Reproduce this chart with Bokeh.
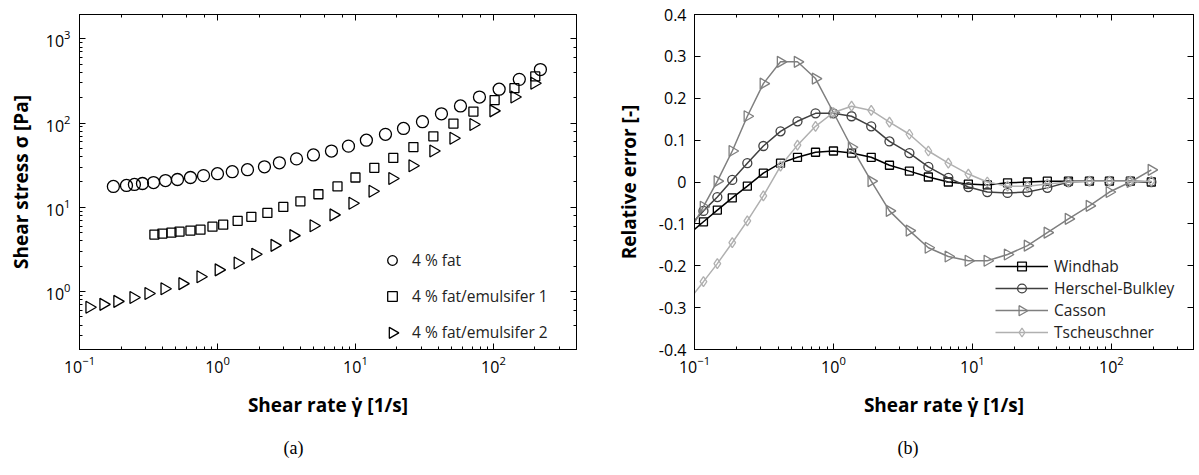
import math
from bokeh.plotting import figure
from bokeh.layouts import row
from bokeh.models import (LogAxis, LinearAxis, Legend, Title, FixedTicker,
                          NumeralTickFormatter, Range1d, LinearScale)
from bokeh.embed import file_html
from bokeh.resources import INLINE

# ---------------- data: panel (a) ----------------
fat_rate = [0.176, 0.219, 0.25, 0.286, 0.344, 0.42, 0.513, 0.637, 0.792, 1.0, 1.28, 1.65, 2.19, 2.81,
            3.74, 4.96, 6.70, 8.9, 12.0, 16.5, 22.3, 30.6, 42.0, 57.7, 79.2, 110, 154, 219]
fat_stress = [17.7, 18.2, 18.7, 19.2, 19.7, 20.8, 21.4, 22.6, 23.8, 25.1, 26.5, 28.0, 30.3, 33.8,
              37.6, 41.9, 46.6, 53.3, 62.7, 73.6, 86.5, 104, 129, 160, 204, 253, 331, 433]

emul1_rate = [0.349, 0.399, 0.464, 0.531, 0.637, 0.753, 0.920, 1.10, 1.40, 1.76, 2.30, 3.00, 3.99,
              5.39, 7.41, 10.0, 13.7, 18.8, 26.3, 36.7, 51.3, 71.6, 102, 142, 201]
emul1_stress = [4.75, 4.88, 5.01, 5.15, 5.29, 5.43, 5.89, 6.22, 6.92, 7.71, 8.59, 10.1, 11.8,
                14.3, 17.7, 22.6, 29.5, 38.6, 51.9, 69.8, 98.9, 137, 188, 260, 359]

emul2_rate = [0.118, 0.149, 0.188, 0.246, 0.316, 0.413, 0.557, 0.753, 1.02, 1.40, 1.88, 2.59, 3.55,
              4.97, 6.93, 9.51, 13.3, 18.5, 25.9, 36.7, 51.3, 71.6, 100, 142, 198]
emul2_stress = [0.65, 0.705, 0.764, 0.851, 0.947, 1.08, 1.24, 1.50, 1.81, 2.18, 2.77, 3.54, 4.62,
                6.05, 8.13, 11.2, 15.5, 22.0, 31.2, 46.6, 66.1, 96.3, 140, 204, 298]

labels_a = ["4 % fat", "4 % fat/emulsifer 1", "4 % fat/emulsifer 2"]

# ---------------- data: panel (b) ----------------
model_rate = [0.116, 0.146, 0.187, 0.240, 0.313, 0.416, 0.551, 0.743, 1.00, 1.35, 1.87, 2.53, 3.52,
              4.82, 6.71, 9.35, 12.8, 17.9, 24.9, 34.6, 49.1, 69.5, 96.8, 137, 194]
windhab = [-0.095, -0.067, -0.038, -0.010, 0.021, 0.045, 0.059, 0.071, 0.074, 0.069, 0.059, 0.040,
           0.026, 0.012, 0.000, -0.005, -0.007, -0.002, 0.000, 0.002, 0.002, 0.002, 0.002, 0.002, 0.000]
herschel = [-0.069, -0.036, 0.005, 0.045, 0.086, 0.121, 0.145, 0.164, 0.164, 0.157, 0.133, 0.097,
            0.069, 0.036, 0.010, -0.012, -0.024, -0.026, -0.024, -0.014, 0.000, 0.002, 0.002, 0.002, 0.000]
casson = [-0.059, 0.002, 0.074, 0.157, 0.235, 0.287, 0.287, 0.247, 0.166, 0.083, 0.002, -0.069,
          -0.116, -0.157, -0.178, -0.188, -0.188, -0.173, -0.152, -0.121, -0.088, -0.057, -0.024, 0.000, 0.029]
tscheuschner = [-0.238, -0.195, -0.145, -0.093, -0.033, 0.038, 0.088, 0.133, 0.166, 0.181, 0.171,
                0.143, 0.114, 0.074, 0.045, 0.019, 0.000, -0.010, -0.010, -0.005, 0.000, 0.002, 0.002,
                0.002, 0.002]
# value of each curve where it enters the frame (shear rate 0.1)
line_start_rate = 0.1
line_start = {"Windhab": -0.113, "Herschel-Bulkley": -0.092, "Casson": -0.097, "Tscheuschner": -0.265}

model_names = ["Windhab", "Herschel-Bulkley", "Casson", "Tscheuschner"]
model_values = [windhab, herschel, casson, tscheuschner]
y_ticks_b = [-0.4, -0.3, -0.2, -0.1, 0.0, 0.1, 0.2, 0.3, 0.4]
captions = ["(a)", "(b)"]

FONT = "Open Sans"
TICK_FS = "16px"
LABEL_FS = "19px"

# ---------------- geometry ----------------
WA, WB, H = 600, 599, 475
A_BORDER = dict(left=79, right=24, top=7, bottom=126)
B_BORDER = dict(left=94, right=6, top=14, bottom=124)


def style_main_axis(ax, label_standoff, axis_label_standoff, minor=True):
    ax.axis_line_color = "black"
    ax.major_tick_in = 6
    ax.major_tick_out = 0
    ax.minor_tick_in = 3
    ax.minor_tick_out = 0
    ax.major_tick_line_color = "black"
    ax.minor_tick_line_color = "black" if minor else None
    ax.major_label_text_font = FONT
    ax.major_label_text_font_size = TICK_FS
    ax.major_label_text_color = "black"
    ax.major_label_standoff = label_standoff
    ax.axis_label_text_font = FONT
    ax.axis_label_text_font_size = LABEL_FS
    ax.axis_label_text_font_style = "bold"
    ax.axis_label_text_color = "black"
    ax.axis_label_standoff = axis_label_standoff


def mirror_axis(ax, minor=True):
    ax.axis_line_color = "black"
    ax.major_tick_in = 6
    ax.major_tick_out = 0
    ax.minor_tick_in = 3
    ax.minor_tick_out = 0
    ax.minor_tick_line_color = "black" if minor else None
    ax.major_label_text_font_size = "1px"
    ax.major_label_text_alpha = 0
    ax.major_label_standoff = 0
    return ax


def legend_row_center(y0, n, i, row_h, spacing):
    """centre (px from frame bottom) of legend row i for a legend whose bottom is at y0"""
    return y0 + n * row_h + (n - 1) * spacing - (i + 0.5) * row_h - i * spacing


def add_px_ranges(p, border, width):
    fw = width - border["left"] - border["right"]
    fh = H - border["top"] - border["bottom"]
    p.extra_x_ranges = {"px": Range1d(0, fw)}
    p.extra_y_ranges = {"px": Range1d(0, fh)}
    p.extra_x_scales = {"px": LinearScale()}
    p.extra_y_scales = {"px": LinearScale()}


def caption(p, text, dx, standoff):
    kw = dict(text=text, align="left", offset=dx, text_font="Liberation Serif",
              text_font_size="18px", text_font_style="normal", text_color="black")
    try:
        t = Title(standoff=standoff, **kw)
    except Exception:
        t = Title(**kw)
    p.add_layout(t, "below")


# ---------------- panel (a) ----------------
pa = figure(width=WA, height=H, x_axis_type="log", y_axis_type="log",
            x_range=Range1d(0.1, 400), y_range=Range1d(0.205, 1950),
            output_backend="svg", toolbar_location=None,
            min_border_left=A_BORDER["left"], min_border_right=A_BORDER["right"],
            min_border_top=A_BORDER["top"], min_border_bottom=A_BORDER["bottom"])
pa.grid.visible = False
pa.outline_line_color = "black"
pa.xaxis.axis_label = "Shear rate γ̇ [1/s]"
pa.yaxis.axis_label = "Shear stress σ [Pa]"
style_main_axis(pa.xaxis[0], 6, 16)
style_main_axis(pa.yaxis[0], 9, 9)
pa.add_layout(mirror_axis(LogAxis()), "above")
pa.add_layout(mirror_axis(LogAxis()), "right")
add_px_ranges(pa, A_BORDER, WA)

ra1 = pa.scatter(fat_rate, fat_stress, marker="circle", size=12, fill_color=None,
                 line_color="black", line_width=1.3)
ra2 = pa.scatter(emul1_rate, emul1_stress, marker="square", size=9, fill_color=None,
                 line_color="black", line_width=1.3)
ra3 = pa.scatter(emul2_rate, emul2_stress, marker="triangle", size=12, angle=-math.pi / 2,
                 fill_color=None, line_color="black", line_width=1.3)
# invisible stand-in so the legend row shows only its label; the key is drawn rotated below
ra3_key = pa.scatter(emul2_rate, emul2_stress, marker="triangle", size=1, fill_alpha=0, line_alpha=0)

LA = dict(x=301, y=5, gw=24, gh=24, sp=12)
leg_a = Legend(items=[(labels_a[0], [ra1]), (labels_a[1], [ra2]), (labels_a[2], [ra3_key])],
               location=(LA["x"], LA["y"]), border_line_color=None, background_fill_alpha=0,
               padding=0, margin=0, spacing=LA["sp"], glyph_width=LA["gw"], glyph_height=LA["gh"],
               label_height=LA["gh"], label_standoff=8, label_text_font=FONT,
               label_text_font_size="15.5px", label_text_color="#222222")
pa.add_layout(leg_a)
pa.scatter([LA["x"] + LA["gw"] / 2], [legend_row_center(LA["y"], 3, 2, LA["gh"], LA["sp"])],
           x_range_name="px", y_range_name="px", marker="triangle", size=0.4 * LA["gh"] * 1.15,
           angle=-math.pi / 2, fill_color=None, line_color="black", line_width=1.3)
caption(pa, captions[0], 204, 30)

# ---------------- panel (b) ----------------
pb = figure(width=WB, height=H, x_axis_type="log",
            x_range=Range1d(0.1, 390), y_range=Range1d(-0.4, 0.4),
            output_backend="svg", toolbar_location=None,
            min_border_left=B_BORDER["left"], min_border_right=B_BORDER["right"],
            min_border_top=B_BORDER["top"], min_border_bottom=B_BORDER["bottom"])
pb.grid.visible = False
pb.outline_line_color = "black"
pb.xaxis.axis_label = "Shear rate γ̇ [1/s]"
pb.yaxis.axis_label = "Relative error [-]"
style_main_axis(pb.xaxis[0], 6, 16)
style_main_axis(pb.yaxis[0], 8, 14, minor=False)
pb.yaxis.ticker = FixedTicker(ticks=y_ticks_b)
pb.yaxis.formatter = NumeralTickFormatter(format="0.[0]")
pb.add_layout(mirror_axis(LogAxis()), "above")
pb.add_layout(mirror_axis(LinearAxis(ticker=FixedTicker(ticks=y_ticks_b)), minor=False), "right")
add_px_ranges(pb, B_BORDER, WB)

colors = ["#000000", "#404040", "#7f7f7f", "#b0b0b0"]
markers = ["square", "circle", "triangle", "diamond"]
msizes = [8, 9, 11, 10]
angles = [0, 0, -math.pi / 2, 0]
LB = dict(x=301, y=6, gw=53, gh=22, sp=0)
items = []
key_rows = []
for i, (name, vals, col, mk, ms, ang) in enumerate(zip(model_names, model_values, colors, markers,
                                                        msizes, angles)):
    lx = [line_start_rate] + model_rate
    ly = [line_start[name]] + vals
    lr = pb.line(lx, ly, line_color=col, line_width=1.5)
    sr = pb.scatter(model_rate, vals, marker=mk, size=ms, angle=ang, fill_color=None,
                    line_color=col, line_width=1.3)
    if ang != 0:
        key = pb.scatter(model_rate, vals, marker=mk, size=1, fill_alpha=0, line_alpha=0)
        items.append((name, [lr, key]))
        key_rows.append((i, mk, col, ang))
    else:
        items.append((name, [lr, sr]))

leg_b = Legend(items=items, location=(LB["x"], LB["y"]), border_line_color=None,
               background_fill_alpha=0, padding=0, margin=0, spacing=LB["sp"],
               glyph_width=LB["gw"], glyph_height=LB["gh"], label_height=LB["gh"],
               label_standoff=6, label_text_font=FONT, label_text_font_size="15.5px",
               label_text_color="#222222")
pb.add_layout(leg_b)
for i, mk, col, ang in key_rows:
    pb.scatter([LB["x"] + LB["gw"] / 2],
               [legend_row_center(LB["y"], len(model_names), i, LB["gh"], LB["sp"])],
               x_range_name="px", y_range_name="px", marker=mk, size=0.4 * LB["gh"] * 1.15,
               angle=ang, fill_color="white", line_color=col, line_width=1.3)
caption(pb, captions[1], 203, 30)

layout = row(pa, pb, spacing=0)
open("out.html", "w").write(file_html(layout, INLINE))
